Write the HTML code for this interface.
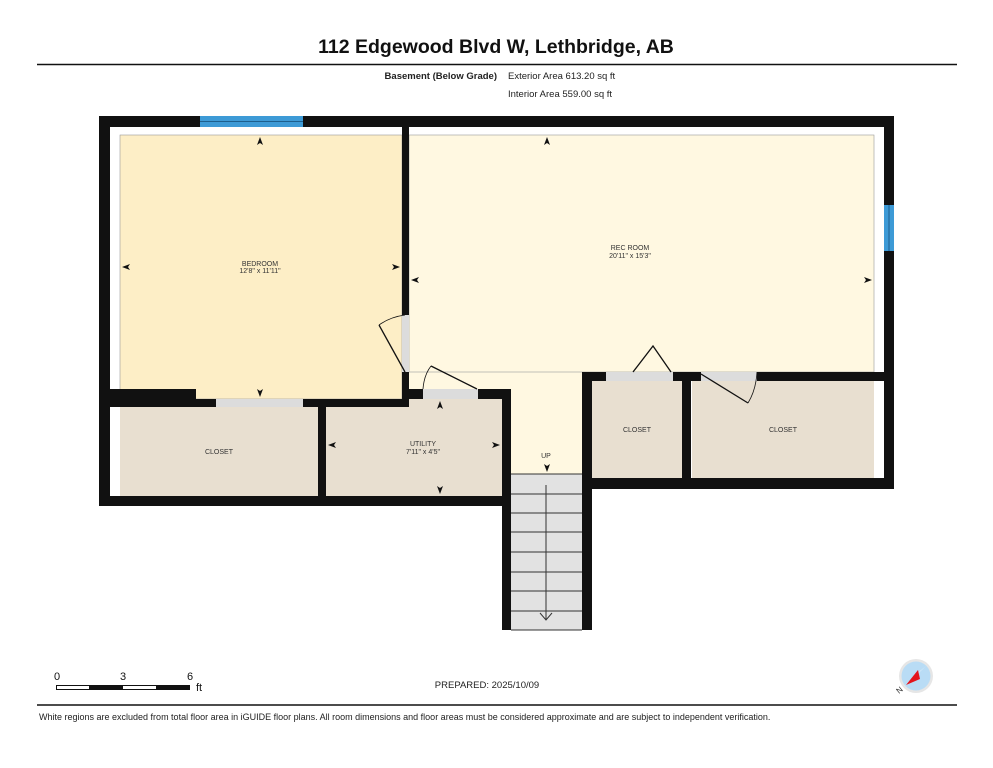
<!DOCTYPE html>
<html><head><meta charset="utf-8"><style>
html,body{margin:0;padding:0;background:#fff;}
svg{display:block;font-family:"Liberation Sans",sans-serif;}
</style></head><body>
<svg width="993" height="768" viewBox="0 0 993 768" xmlns="http://www.w3.org/2000/svg">
<rect width="993" height="768" fill="#fff"/>
<text x="496" y="53" font-size="19.5" font-weight="bold" text-anchor="middle" fill="#111">112 Edgewood Blvd W, Lethbridge, AB</text>
<line x1="37" y1="64.5" x2="957" y2="64.5" stroke="#111" stroke-width="1.5"/>
<text x="497" y="79" font-size="9.5" font-weight="bold" text-anchor="end" fill="#222">Basement (Below Grade)</text>
<text x="508" y="79" font-size="9.5" fill="#222">Exterior Area 613.20 sq ft</text>
<text x="508" y="97" font-size="9.5" fill="#222">Interior Area 559.00 sq ft</text>

<!-- fills -->
<rect x="120" y="135" width="282" height="264" fill="#fdeec6"/>
<rect x="409" y="135" width="465" height="237" fill="#fff8e1"/>
<rect x="409" y="372" width="173" height="102" fill="#fff8e1"/>
<rect x="120" y="407" width="198" height="89" fill="#e8dfd0"/>
<rect x="326" y="399" width="176" height="97" fill="#e8dfd0"/>
<rect x="592" y="381" width="90" height="97" fill="#e8dfd0"/>
<rect x="692" y="381" width="182" height="97" fill="#e8dfd0"/>
<rect x="511" y="474" width="71" height="156" fill="#e2e2e2"/>
<rect x="120" y="135" width="282" height="264" fill="none" stroke="#999" stroke-width="0.6"/>
<rect x="409" y="135" width="465" height="237" fill="none" stroke="#999" stroke-width="0.6"/>
<g stroke="#333" stroke-width="1">
<line x1="511" y1="474" x2="582" y2="474"/><line x1="511" y1="494" x2="582" y2="494"/>
<line x1="511" y1="513" x2="582" y2="513"/><line x1="511" y1="532" x2="582" y2="532"/>
<line x1="511" y1="552" x2="582" y2="552"/><line x1="511" y1="572" x2="582" y2="572"/>
<line x1="511" y1="591" x2="582" y2="591"/><line x1="511" y1="611" x2="582" y2="611"/>
<line x1="511" y1="630" x2="582" y2="630"/>
<line x1="546" y1="485" x2="546" y2="620"/>
<polyline points="540,613 546,620 552,613" fill="none"/>
</g>

<!-- walls -->
<g fill="#111">
<rect x="99" y="116" width="795" height="11"/>
<rect x="99" y="116" width="11" height="390"/>
<rect x="884" y="116" width="10" height="373"/>
<rect x="402" y="116" width="7" height="199"/>
<rect x="402" y="372" width="7" height="35"/>
<rect x="99" y="389" width="97" height="18"/>
<rect x="99" y="399" width="117" height="8"/>
<rect x="303" y="399" width="106" height="8"/>
<rect x="318" y="399" width="8" height="107"/>
<rect x="99" y="496" width="412" height="10"/>
<rect x="402" y="389" width="21" height="10"/>
<rect x="478" y="389" width="32" height="10"/>
<rect x="502" y="389" width="9" height="241"/>
<rect x="582" y="372" width="10" height="258"/>
<rect x="582" y="372" width="24" height="9"/>
<rect x="673" y="372" width="28" height="9"/>
<rect x="757" y="372" width="137" height="9"/>
<rect x="682" y="372" width="9" height="106"/>
<rect x="582" y="478" width="312" height="11"/>
</g>
<!-- door gaps -->
<g fill="#dcdcdc">
<rect x="216" y="399" width="87" height="8"/>
<rect x="402" y="315" width="7" height="57"/>
<rect x="423" y="389" width="55" height="10"/>
<rect x="606" y="372" width="67" height="9"/>
<rect x="701" y="372" width="56" height="9"/>
</g>
<!-- windows -->
<rect x="200" y="116" width="103" height="11" fill="#3d9ad6"/>
<line x1="200" y1="121.5" x2="303" y2="121.5" stroke="#1d5f8e" stroke-width="1"/>
<rect x="884" y="205" width="10" height="46" fill="#3d9ad6"/>
<line x1="889" y1="205" x2="889" y2="251" stroke="#1d5f8e" stroke-width="1"/>
<!-- door swings -->
<g stroke="#111" stroke-width="1.3" fill="none">
<line x1="405" y1="372" x2="379" y2="325"/><path d="M379,325 Q390,317 405,315" stroke-width="0.8"/>
<line x1="477" y1="389" x2="431" y2="366"/><path d="M431,366 Q424,375 423,389" stroke-width="0.8"/>
<polyline points="633,372 653,346 671,372"/>
<line x1="701" y1="374" x2="748" y2="403"/><path d="M748,403 Q756,390 757,372" stroke-width="0.8"/>
</g>
<!-- dimension arrows -->
<g fill="#111">
<polygon points="260,137 257,145 260,143 263,145"/>
<polygon points="260,397 257,389 260,391 263,389"/>
<polygon points="122,267 130,264 128,267 130,270"/>
<polygon points="400,267 392,264 394,267 392,270"/>
<polygon points="547,137 544,145 547,143 550,145"/>
<polygon points="411,280 419,277 417,280 419,283"/>
<polygon points="872,280 864,277 866,280 864,283"/>
<polygon points="440,401 437,409 440,407 443,409"/>
<polygon points="440,494 437,486 440,488 443,486"/>
<polygon points="328,445 336,442 334,445 336,448"/>
<polygon points="500,445 492,442 494,445 492,448"/>
<polygon points="547,472 544,464 547,466 550,464"/>
</g>
<!-- labels -->
<g font-size="7" fill="#333" text-anchor="middle">
<text x="260" y="266">BEDROOM</text><text x="260" y="273">12'8" x 11'11"</text>
<text x="630" y="250">REC ROOM</text><text x="630" y="258">20'11" x 15'3"</text>
<text x="219" y="454">CLOSET</text>
<text x="423" y="446">UTILITY</text><text x="423" y="454">7'11" x 4'5"</text>
<text x="637" y="432">CLOSET</text>
<text x="783" y="432">CLOSET</text>
<text x="546" y="458">UP</text>
</g>

<!-- scale -->
<g font-size="11" fill="#111">
<text x="57" y="680" text-anchor="middle">0</text>
<text x="123" y="680" text-anchor="middle">3</text>
<text x="190" y="680" text-anchor="middle">6</text>
<text x="196" y="691">ft</text>
</g>
<rect x="56.5" y="685.5" width="133" height="4" fill="#fff" stroke="#111" stroke-width="1"/>
<rect x="89" y="685" width="34" height="5" fill="#111"/>
<rect x="156" y="685" width="34" height="5" fill="#111"/>
<text x="487" y="688" font-size="9.5" text-anchor="middle" fill="#222">PREPARED: 2025/10/09</text>
<!-- compass -->
<circle cx="916" cy="676" r="17" fill="#e6e6e6"/>
<circle cx="916" cy="676" r="14.5" fill="#b9dcf5"/>
<polygon points="926,666 913,678 906,684 919,672" fill="#fff"/>
<polygon points="918,670 906,685 920,679" fill="#e3141c"/>
<text x="899" y="694" font-size="8" fill="#333" transform="rotate(-40 899 694)">N</text>
<line x1="37" y1="705" x2="957" y2="705" stroke="#111" stroke-width="1.5"/>
<text x="39" y="720" font-size="9" fill="#222">White regions are excluded from total floor area in iGUIDE floor plans. All room dimensions and floor areas must be considered approximate and are subject to independent verification.</text>
</svg>
</body></html>
